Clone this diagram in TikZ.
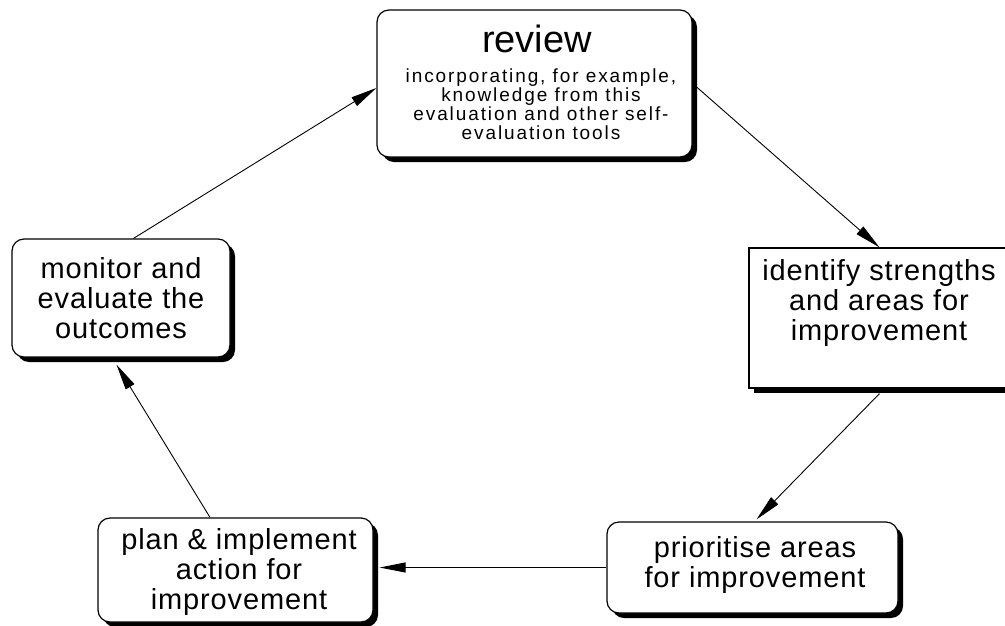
\documentclass[tikz,border=0pt]{standalone}
\usepackage{fontspec}
\setmainfont{Liberation Sans}
\usetikzlibrary{shadows,arrows.meta,calc}
\tikzset{
  rbox/.style={draw=black, line width=1.2pt, fill=white, rounded corners=12pt,
    inner sep=0pt, drop shadow={shadow xshift=5pt, shadow yshift=-5pt, fill=black, opacity=1}},
  sqbox/.style={rbox, rounded corners=0pt},
  arr/.style={line width=0.9pt, -{Triangle[length=26pt,width=10pt]}},
  txt/.style={align=center, inner sep=0pt, font=\fontsize{29pt}{30pt}\selectfont\addfontfeature{LetterSpace=3}},
  smalltxt/.style={align=center, inner sep=0pt, font=\fontsize{19pt}{19pt}\selectfont\addfontfeature{LetterSpace=10}},
  titletxt/.style={inner sep=0pt, font=\fontsize{38pt}{40pt}\selectfont}
}
\begin{document}
\begin{tikzpicture}[x=1pt,y=-1pt]
\clip (0,0) rectangle (1005,625);
\fill[white] (0,0) rectangle (1005,625);
% boxes
\node[rbox, minimum width=315pt, minimum height=147pt] (rev) at (534.5,83.5) {};
\node[sqbox, minimum width=261pt, minimum height=140pt] (ide) at (879.5,318) {};
\node[rbox, minimum width=291pt, minimum height=91pt] (pri) at (752.5,567.5) {};
\node[rbox, minimum width=275pt, minimum height=104pt] (plan) at (235.5,570) {};
\node[rbox, minimum width=218pt, minimum height=118pt] (mon) at (121,298) {};
% texts
\node[titletxt] (revt) at (537,39) {review};
\node[smalltxt] (revb) at (541,104) {incorporating, for example,\\knowledge from this\\evaluation and other self-\\evaluation tools};
\node[txt] (idet) at (879,303) {identify strengths\\and areas for\\improvement};
\node[txt] (prit) at (755,565) {prioritise areas\\for improvement};
\node[txt] (plant) at (239,572) {plan \& implement\\action for\\improvement};
\node[txt] (mont) at (121,298) {monitor and\\evaluate the\\outcomes};
% connectors
\draw[arr] ([xshift=12.5pt]mon.north) -- ([yshift=-4.5pt]rev.west);
\draw[arr] (rev.east) -- (ide.north);
\draw[arr] ([yshift=-5pt]ide.south) -- ([xshift=4pt,yshift=2pt]pri.north);
\draw[arr] (pri.west) -- ($(plan.east |- pri.west)+(6pt,0)$);
\draw[arr] ([xshift=-25.5pt]plan.north) -- ([xshift=-4.5pt,yshift=-7pt]mon.south);
\end{tikzpicture}
\end{document}
